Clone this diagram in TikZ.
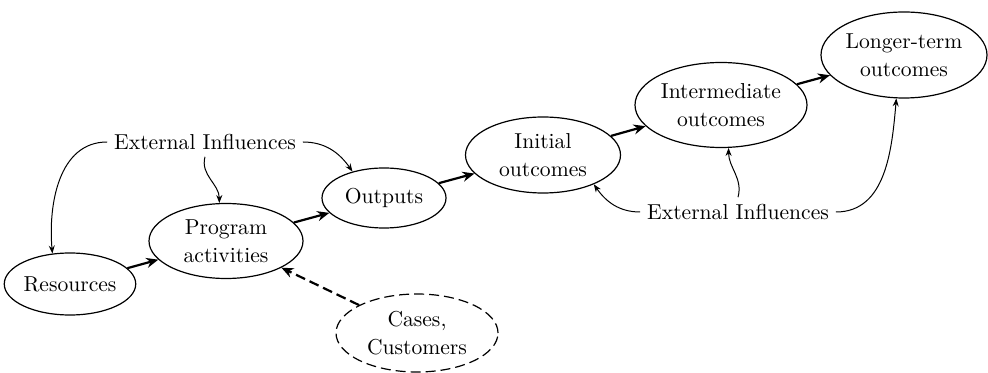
\documentclass[tikz,border=0pt]{standalone}
\usepackage{tikz}
\usetikzlibrary{shapes.geometric,arrows.meta,positioning}
\begin{document}
\begin{tikzpicture}[x=0.5pt,y=-0.5pt,font=\fontsize{10.8}{14}\selectfont]
	\tikzstyle{stage}=[draw,ellipse,align=center,inner sep=0pt,line width=0.6pt]
	\tikzstyle{flow}=[-{Stealth[length=6pt,width=5pt]},line width=1.1pt]
	\tikzstyle{influence}=[-{Stealth[length=4pt,width=3pt]},line width=0.5pt]
	\tikzstyle{client}=[dash pattern=on 5pt off 2.5pt]
	\useasboundingbox (0,0) rectangle (988,373);
	
	%
	% logic model stages
	%
	\node [stage,minimum width=62.5pt,minimum height=31pt] (res) at (70,284) {Resources};
	\node [stage,minimum width=77pt,minimum height=37.5pt] (prog) at (226,241) {Program\\activities};
	\node [stage,minimum width=62pt,minimum height=30pt] (outp) at (384,198) {Outputs};
	\node [stage,minimum width=77.5pt,minimum height=38pt] (init) at (543,155) {Initial\\outcomes};
	\node [stage,minimum width=86pt,minimum height=42.5pt] (inter) at (721,105) {Intermediate\\outcomes};
	\node [stage,minimum width=83pt,minimum height=43pt] (long) at (904,55) {Longer-term\\outcomes};
	\node [stage,client,minimum width=81pt,minimum height=39pt] (cases) at (417,333) {Cases,\\Customers};
	
	\begin{scope}[flow]
		\draw (res) -- (prog);
		\draw (prog) -- (outp);
		\draw (outp) -- (init);
		\draw (init) -- (inter);
		\draw (inter) -- (long);
		\draw [client] (cases) -- (prog);
	\end{scope}
	
	%
	% external influences
	%
	\node (extL) at (205,142) {External Influences};
	\node (extR) at (738,212) {External Influences};
	
	\begin{scope}[influence]
		\draw (extL.west) to[out=180,in=95] (res.120);
		\draw (extL.south) to[out=255,in=90] (prog.100);
		\draw (extL.east) to[out=0,in=125] (outp.140);
		\draw (extR.west) to[out=180,in=-55] (init.-30);
		\draw (extR.north) to[out=75,in=-90] (inter.-80);
		\draw (extR.east) to[out=0,in=-95] (long.-100);
	\end{scope}
	
\end{tikzpicture}
\end{document}
